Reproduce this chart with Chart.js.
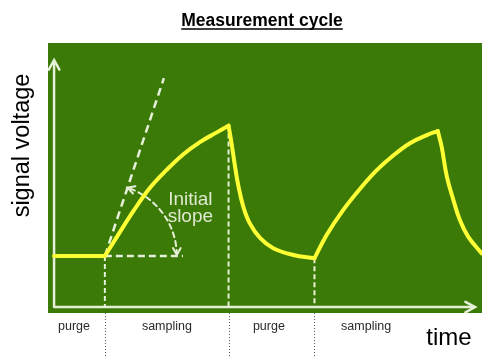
<!DOCTYPE html>
<html>
<head>
<meta charset="utf-8">
<script src="https://cdn.jsdelivr.net/npm/chart.js@4"></script>
<style>
html,body{margin:0;padding:0;background:#fff;}
canvas{display:block;}
</style>
</head>
<body>
<canvas id="c" width="492" height="357"></canvas>
<script>
// ---- data (time units 0..100, signal units 0..100) ----
const baseX  = [1.4, 13.1];
const baseY  = [21.1, 21.1];
const rise1X = [13.1, 15.8, 19.7, 23.5, 27.4, 31.2, 35.0, 38.9, 41.6];
const rise1Y = [21.1, 28.0, 37.8, 46.4, 53.1, 58.8, 63.3, 66.9, 69.4];
const fall1X = [41.6, 42.3, 43.1, 43.9, 45.0, 46.5, 48.9, 51.9, 56.5, 61.4];
const fall1Y = [69.4, 62.8, 54.2, 46.8, 39.4, 33.2, 27.7, 24.0, 21.5, 20.3];
const rise2X = [61.4, 64.2, 68.0, 71.9, 75.7, 79.6, 83.4, 87.3, 89.8];
const rise2Y = [20.3, 28.9, 38.1, 46.0, 52.8, 58.4, 62.9, 65.9, 67.4];
const fall2X = [89.8, 90.7, 91.9, 93.4, 94.9, 96.8, 99.9];
const fall2Y = [67.4, 61.6, 50.5, 41.9, 34.4, 28.3, 22.1];

const tangentX = [13.1, 26.7];
const tangentY = [21.1, 87.0];
const refX = [13.1, 31.1];
const refY = [21.1, 21.1];

const phaseX    = [13.1, 41.6, 61.4];   // phase boundaries
const phaseTopY = [21.1, 69.4, 20.3];

const axisOrigin = [1.4, 2.2];
const axisEnd    = [98.4, 93.7];

const phaseLabels  = ['purge', 'sampling', 'purge', 'sampling'];
const phaseLabelX  = [6.0, 27.4, 50.9, 73.3];

const titleText = 'Measurement cycle';
const xTitle = 'time';
const yTitle = 'signal voltage';
const slopeLabel = ['Initial', 'slope'];
const slopeLabelX = 32.8; // time units

// ---- helpers ----
const pts = (xs, ys) => xs.map((v, i) => ({x: v, y: ys[i]}));
const YELLOW = '#ffff33';
const WHITE = '#e6efd8';
const GREEN = '#3b7a06';

const curve = (xs, ys) => ({
  data: pts(xs, ys), borderColor: YELLOW, borderWidth: 4,
  tension: 0.4, pointRadius: 0,
  borderCapStyle: 'round', borderJoinStyle: 'round', fill: false
});
const dashed = (xs, ys, dash, w) => ({
  data: pts(xs, ys), borderColor: WHITE, borderWidth: w,
  borderDash: dash, pointRadius: 0, tension: 0, fill: false
});

const datasets = [
  curve(baseX, baseY), curve(rise1X, rise1Y), curve(fall1X, fall1Y),
  curve(rise2X, rise2Y), curve(fall2X, fall2Y),
  dashed(tangentX, tangentY, [8, 5], 2.5),
  dashed(refX, refY, [7, 4], 2.5)
];
phaseX.forEach((px, i) => {
  datasets.push(dashed([px, px], [phaseTopY[i], axisOrigin[1]], [5, 3], 2));
});

function chevron(ctx, tipX, tipY, dx, dy, len) {
  const a = Math.atan2(dy, dx);
  ctx.beginPath();
  ctx.moveTo(tipX - len * Math.cos(a - 0.5), tipY - len * Math.sin(a - 0.5));
  ctx.lineTo(tipX, tipY);
  ctx.lineTo(tipX - len * Math.cos(a + 0.5), tipY - len * Math.sin(a + 0.5));
  ctx.stroke();
}

const deco = {
  id: 'deco',
  beforeDraw(chart) {
    const {ctx, chartArea: a} = chart;
    ctx.save();
    ctx.fillStyle = '#fff';
    ctx.fillRect(0, 0, chart.width, chart.height);
    ctx.fillStyle = GREEN;
    ctx.fillRect(a.left, a.top, a.right - a.left, a.bottom - a.top);
    ctx.restore();
  },
  beforeDatasetsDraw(chart) {
    const {ctx} = chart;
    const xs = chart.scales.x, ys = chart.scales.y;
    const ox = xs.getPixelForValue(axisOrigin[0]), oy = ys.getPixelForValue(axisOrigin[1]);
    const ex = xs.getPixelForValue(axisEnd[0]), ey = ys.getPixelForValue(axisEnd[1]);
    ctx.save();
    ctx.strokeStyle = WHITE;
    ctx.lineWidth = 2.5;
    ctx.lineCap = 'round';
    ctx.beginPath();
    ctx.moveTo(ox, oy); ctx.lineTo(ox, ey + 1);
    ctx.moveTo(ox, oy); ctx.lineTo(ex - 1, oy);
    ctx.stroke();
    chevron(ctx, ox, ey, 0, -1, 11);
    chevron(ctx, ex, oy, 1, 0, 11);

    // angle arc between tangent and horizontal
    const cx = xs.getPixelForValue(tangentX[0]), cy = ys.getPixelForValue(tangentY[0]);
    const tx = xs.getPixelForValue(tangentX[1]), ty = ys.getPixelForValue(tangentY[1]);
    const th = Math.atan2(ty - cy, tx - cx);
    const R = 72;
    ctx.lineWidth = 2;
    ctx.setLineDash([5, 4]);
    ctx.beginPath();
    ctx.arc(cx, cy, R, th + 0.04, -0.04, false);
    ctx.stroke();
    ctx.setLineDash([]);
    const t1x = cx + R * Math.cos(th), t1y = cy + R * Math.sin(th);
    chevron(ctx, t1x, t1y, Math.sin(th), -Math.cos(th), 8);
    chevron(ctx, cx + R, cy - 1, 0, 1, 8);
    ctx.restore();
  },
  afterDraw(chart) {
    const {ctx, chartArea: a} = chart;
    const xs = chart.scales.x;
    ctx.save();
    // dotted phase lines below the plot
    ctx.strokeStyle = '#555';
    ctx.lineWidth = 1;
    ctx.setLineDash([1, 2]);
    phaseX.forEach(v => {
      const px = Math.round(xs.getPixelForValue(v)) + 0.5;
      ctx.beginPath();
      ctx.moveTo(px, a.bottom);
      ctx.lineTo(px, chart.height);
      ctx.stroke();
    });
    ctx.setLineDash([]);

    // title
    ctx.fillStyle = '#000';
    ctx.font = 'bold 17.5px "Liberation Sans", Arial, sans-serif';
    ctx.textAlign = 'center';
    ctx.textBaseline = 'alphabetic';
    const tcx = 262, tby = 26;
    ctx.fillText(titleText, tcx, tby);
    const tw = ctx.measureText(titleText).width;
    ctx.strokeStyle = '#000';
    ctx.lineWidth = 1.5;
    ctx.beginPath();
    ctx.moveTo(tcx - tw / 2, tby + 3);
    ctx.lineTo(tcx + tw / 2, tby + 3);
    ctx.stroke();

    // phase labels
    ctx.fillStyle = '#2a2a2a';
    ctx.font = '12.5px "Liberation Sans", Arial, sans-serif';
    phaseLabels.forEach((t, i) => {
      ctx.fillText(t, xs.getPixelForValue(phaseLabelX[i]), 330);
    });

    // x title
    ctx.fillStyle = '#000';
    ctx.font = '24px "Liberation Sans", Arial, sans-serif';
    ctx.fillText(xTitle, 449, 345);

    // y title
    ctx.save();
    ctx.translate(28.5, 145.5);
    ctx.rotate(-Math.PI / 2);
    ctx.font = '23.5px "Liberation Sans", Arial, sans-serif';
    ctx.fillText(yTitle, 0, 0);
    ctx.restore();

    // slope label
    ctx.fillStyle = '#dfe9cf';
    ctx.font = '19px "Liberation Sans", Arial, sans-serif';
    const lx = xs.getPixelForValue(slopeLabelX);
    ctx.fillText(slopeLabel[0], lx, 204.5);
    ctx.fillText(slopeLabel[1], lx, 221.5);
    ctx.restore();
  }
};

new Chart(document.getElementById('c'), {
  type: 'line',
  data: {datasets},
  options: {
    responsive: false,
    devicePixelRatio: 1,
    animation: false,
    layout: {padding: {left: 48, right: 10, top: 43, bottom: 44}},
    scales: {
      x: {type: 'linear', min: 0, max: 100, display: false},
      y: {type: 'linear', min: 0, max: 100, display: false}
    },
    plugins: {legend: {display: false}, tooltip: {enabled: false}, title: {display: false}},
    events: []
  },
  plugins: [deco]
});
</script>
</body>
</html>
